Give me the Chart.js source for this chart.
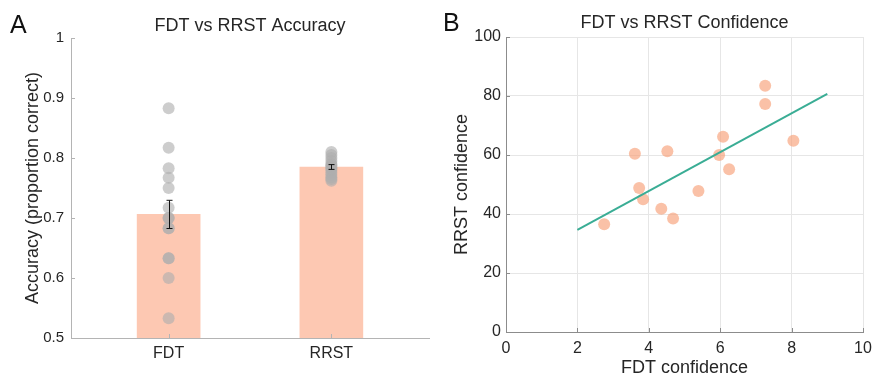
<!DOCTYPE html>
<html>
<head>
<meta charset="utf-8">
<script src="https://cdn.jsdelivr.net/npm/chart.js@4.4.1/dist/chart.umd.min.js"></script>
<style>
  body { margin: 0; background: #fff; }
  #wrap { position: relative; width: 873px; height: 380px; }
  canvas { position: absolute; top: 0; }
  .panel { position: absolute; font-family: Helvetica, Arial, "Liberation Sans", sans-serif; font-size: 25px; color: #111; line-height: 1; }
</style>
</head>
<body>
<div id="wrap">
  <canvas id="accChart" width="440" height="380" style="left:0"></canvas>
  <canvas id="confChart" width="433" height="380" style="left:440px"></canvas>
  <div class="panel" style="left:10px; top:12px">A</div>
  <div class="panel" style="left:443px; top:10px">B</div>
</div>
<script>
// accuracy per task (proportion correct)
const accCategories = ['FDT', 'RRST'];
const accMeans = [0.706, 0.785];
const accSem = [0.0235, 0.004];
const fdtAcc = [0.883, 0.817, 0.783, 0.767, 0.750, 0.717, 0.700, 0.700, 0.683, 0.683, 0.633, 0.633, 0.600, 0.533];
const rrstAcc = [0.810, 0.805, 0.800, 0.795, 0.790, 0.788, 0.785, 0.783, 0.780, 0.776, 0.772, 0.768, 0.765, 0.762];

// confidence, one point per participant
const fdtConf = [2.75, 3.61, 3.73, 3.84, 4.35, 4.52, 4.68, 5.39, 5.97, 6.08, 6.25, 7.26, 7.26, 8.05];
const rrstConf = [36.5, 60.4, 48.8, 45.0, 41.8, 61.3, 38.5, 47.8, 60.0, 66.2, 55.2, 83.5, 77.3, 64.8];
const fitX = [2, 9];
const fitY = [34.6, 80.7];

const FONT = 'Helvetica, Arial, "Liberation Sans", sans-serif';
const TEXT = '#262626';

// keep the plot box where we put it, no extra room for edge labels
function fixHeight(h) {
  return s => { s.height = h; s.paddingLeft = 0; s.paddingRight = 0; };
}
function fixWidth(w) {
  return s => { s.width = w; s.paddingTop = 0; s.paddingBottom = 0; };
}

// small inward tick marks, matlab style
function innerTicksPlugin(color) {
  return {
    id: 'innerTicks',
    afterDraw(chart) {
      const {ctx, chartArea, scales} = chart;
      ctx.save();
      ctx.strokeStyle = color;
      ctx.lineWidth = 1;
      ctx.beginPath();
      scales.x.ticks.forEach(t => {
        const px = Math.round(scales.x.getPixelForValue(t.value)) + 0.5;
        ctx.moveTo(px, chartArea.bottom);
        ctx.lineTo(px, chartArea.bottom - 4);
      });
      scales.y.ticks.forEach(t => {
        const py = Math.round(scales.y.getPixelForValue(t.value)) + 0.5;
        ctx.moveTo(chartArea.left, py);
        ctx.lineTo(chartArea.left + 4, py);
      });
      ctx.stroke();
      ctx.restore();
    }
  };
}

const errorBarPlugin = {
  id: 'errorBars',
  afterDatasetsDraw(chart) {
    const {ctx, scales: {x, y}} = chart;
    ctx.save();
    ctx.strokeStyle = '#111';
    ctx.lineWidth = 1;
    accMeans.forEach((m, i) => {
      const px = Math.round(x.getPixelForValue(i + 1)) + 0.5;
      const top = y.getPixelForValue(m + accSem[i]);
      const bot = y.getPixelForValue(m - accSem[i]);
      ctx.beginPath();
      ctx.moveTo(px, top); ctx.lineTo(px, bot);
      ctx.moveTo(px - 3, top); ctx.lineTo(px + 3, top);
      ctx.moveTo(px - 3, bot); ctx.lineTo(px + 3, bot);
      ctx.stroke();
    });
    ctx.restore();
  }
};

const dotStyle = {
  backgroundColor: 'rgba(175,175,175,0.62)',
  borderWidth: 0,
  pointRadius: 6,
  pointHoverRadius: 6
};

new Chart(document.getElementById('accChart'), {
  type: 'bar',
  data: {
    datasets: [
      Object.assign({type: 'scatter', data: fdtAcc.map(v => ({x: 1, y: v}))}, dotStyle),
      Object.assign({type: 'scatter', data: rrstAcc.map(v => ({x: 2, y: v}))}, dotStyle),
      {
        type: 'bar',
        data: accMeans.map((v, i) => ({x: i + 1, y: v})),
        backgroundColor: 'rgb(253,200,178)',
        borderWidth: 0,
        barThickness: 63
      }
    ]
  },
  options: {
    responsive: false,
    animation: false,
    layout: {padding: {left: 0, right: 11, top: 0, bottom: 0}},
    plugins: {
      legend: {display: false},
      tooltip: {enabled: false},
      title: {
        display: true,
        fullSize: false,
        text: 'FDT vs RRST Accuracy',
        color: TEXT,
        font: {family: FONT, size: 18, weight: 'normal'},
        padding: {top: 15, bottom: 1.4}
      }
    },
    scales: {
      x: {
        type: 'linear',
        min: 0.4,
        max: 2.6,
        offset: false,
        afterBuildTicks: s => { s.ticks = [{value: 1}, {value: 2}]; },
        afterFit: fixHeight(42),
        ticks: {
          callback: v => accCategories[v - 1],
          color: TEXT,
          font: {family: FONT, size: 16},
          padding: 6,
          maxRotation: 0
        },
        grid: {display: false, drawTicks: false, offset: false},
        border: {display: true, color: '#b4b4b4', width: 1}
      },
      y: {
        type: 'linear',
        min: 0.5,
        max: 1,
        beginAtZero: false,
        afterFit: fixWidth(71),
        ticks: {
          stepSize: 0.1,
          callback: v => (v === 1 ? '1' : v.toFixed(1)),
          color: TEXT,
          font: {family: FONT, size: 15},
          padding: 7
        },
        grid: {display: false, drawTicks: false},
        border: {display: true, color: '#b4b4b4', width: 1},
        title: {
          display: true,
          text: 'Accuracy (proportion correct)',
          color: TEXT,
          font: {family: FONT, size: 18},
          padding: {top: 22}
        }
      }
    }
  },
  plugins: [errorBarPlugin, innerTicksPlugin('#b4b4b4')]
});

new Chart(document.getElementById('confChart'), {
  type: 'scatter',
  data: {
    datasets: [
      {
        type: 'line',
        data: fitX.map((v, i) => ({x: v, y: fitY[i]})),
        borderColor: '#3aad95',
        borderWidth: 2,
        pointRadius: 0,
        fill: false
      },
      {
        data: fdtConf.map((v, i) => ({x: v, y: rrstConf[i]})),
        backgroundColor: 'rgba(248,160,120,0.65)',
        borderWidth: 0,
        pointRadius: 6,
        pointHoverRadius: 6
      }
    ]
  },
  options: {
    responsive: false,
    animation: false,
    layout: {padding: {left: 0, right: 10, top: 0, bottom: 0}},
    plugins: {
      legend: {display: false},
      tooltip: {enabled: false},
      title: {
        display: true,
        fullSize: false,
        text: 'FDT vs RRST Confidence',
        color: TEXT,
        font: {family: FONT, size: 18, weight: 'normal'},
        padding: {top: 12.5, bottom: 2.9}
      }
    },
    scales: {
      x: {
        type: 'linear',
        min: 0,
        max: 10,
        afterFit: fixHeight(48),
        ticks: {
          stepSize: 2,
          color: TEXT,
          font: {family: FONT, size: 16},
          padding: 7,
          maxRotation: 0
        },
        grid: {color: '#e6e6e6', drawTicks: false},
        border: {display: true, color: '#8c8c8c', width: 1},
        title: {
          display: true,
          text: 'FDT confidence',
          color: TEXT,
          font: {family: FONT, size: 18},
          padding: {bottom: 1}
        }
      },
      y: {
        type: 'linear',
        min: 0,
        max: 100,
        afterFit: fixWidth(66),
        ticks: {
          stepSize: 20,
          color: TEXT,
          font: {family: FONT, size: 16},
          padding: 5
        },
        grid: {color: '#e6e6e6', drawTicks: false},
        border: {display: true, color: '#8c8c8c', width: 1},
        title: {
          display: true,
          text: 'RRST confidence',
          color: TEXT,
          font: {family: FONT, size: 18},
          padding: {top: 11}
        }
      }
    }
  },
  plugins: [innerTicksPlugin('#8c8c8c')]
});
</script>
</body>
</html>
